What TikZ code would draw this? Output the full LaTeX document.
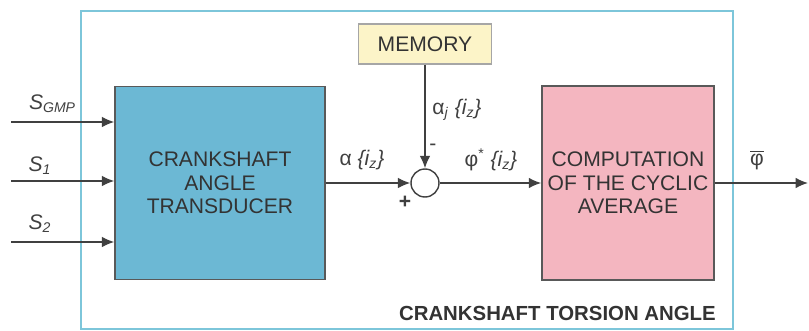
\documentclass[tikz,border=0pt]{standalone}
\usepackage{fontspec}
\setmainfont{Liberation Sans}
\usetikzlibrary{arrows.meta, positioning, calc}

\definecolor{frameblue}{RGB}{125,198,218}
\definecolor{blockblue}{RGB}{108,184,212}
\definecolor{blockpink}{RGB}{244,182,192}
\definecolor{memyellow}{RGB}{252,244,200}

\newcommand{\iz}{\textit{\{i\textsubscript{z}\}}}

\begin{document}
\begin{tikzpicture}[
    block/.style={
        rectangle,
        draw=black!65,
        line width=0.8pt,
        fill=#1,
        align=center,
        font=\fontsize{12}{13.5}\selectfont,
        text=black!80
    },
    arrow/.style={
        -{Latex[length=7pt,width=6pt]},
        line width=0.8pt,
        black!75
    },
    lbl/.style={
        font=\fontsize{12}{14}\selectfont,
        text=black!75
    }
]
\useasboundingbox (0,0) rectangle (16.18,-6.62);

% Outer frame
\draw[frameblue, line width=1.2pt] (1.62,-0.22) rectangle (14.66,-6.58);

% Blocks
\node[block=blockblue, minimum width=4.2cm, minimum height=3.86cm] (cat) at (4.40,-3.66) {CRANKSHAFT\\ANGLE\\TRANSDUCER};
\node[block=blockpink, minimum width=3.44cm, minimum height=3.88cm] (avg) at (12.56,-3.66) {COMPUTATION\\OF THE CYCLIC\\AVERAGE};
\node[block=memyellow, draw=black!35, minimum width=2.66cm, minimum height=0.8cm] (mem) at (8.50,-0.88) {MEMORY};
\node[circle, draw=black!75, fill=white, line width=0.8pt, minimum size=0.56cm, inner sep=0pt] (sum) at (8.50,-3.66) {};

% Input signals
\coordinate (in1) at (0.22,-2.44);
\coordinate (in2) at (0.22,-3.62);
\coordinate (in3) at (0.22,-4.84);
\draw[arrow] (in1) -- (in1 -| cat.west);
\draw[arrow] (in2) -- (in2 -| cat.west);
\draw[arrow] (in3) -- (in3 -| cat.west);
\node[lbl] (sgmp) at (1.05,-2.07) {\textit{S}\textsubscript{\textit{GMP}}};
\node[lbl] (s1) at (0.80,-3.32) {\textit{S}\textsubscript{\textit{1}}};
\node[lbl] (s2) at (0.80,-4.48) {\textit{S}\textsubscript{\textit{2}}};

% Signal path
\draw[arrow] (cat.east) -- (sum.west);
\draw[arrow] (mem.south) -- (sum.north);
\draw[arrow] (sum.east) -- (avg.west);
\coordinate (out) at (16.16,-3.66);
\draw[arrow] (avg.east) -- (out);

% Path labels
\node[lbl] (alpha) at (7.24,-3.20) {α \iz};
\node[lbl] (alphaj) at (9.14,-2.20) {α\textsubscript{\textit{j}} \iz};
\node[lbl] (phistar) at (9.82,-3.20) {φ\textsuperscript{*} \iz};
\node[lbl] (minus) at (8.66,-2.94) {-};
\node[lbl, font=\bfseries\fontsize{12}{14}\selectfont] (plus) at (8.10,-4.04) {+};
\node[lbl] (phibar) at (15.14,-3.20) {$\overline{\mbox{φ}}$};

% Frame title
\node[font=\bfseries\fontsize{11.6}{14}\selectfont, text=black!80, anchor=base east] (title) at (14.44,-6.42) {CRANKSHAFT TORSION ANGLE};

\end{tikzpicture}
\end{document}
